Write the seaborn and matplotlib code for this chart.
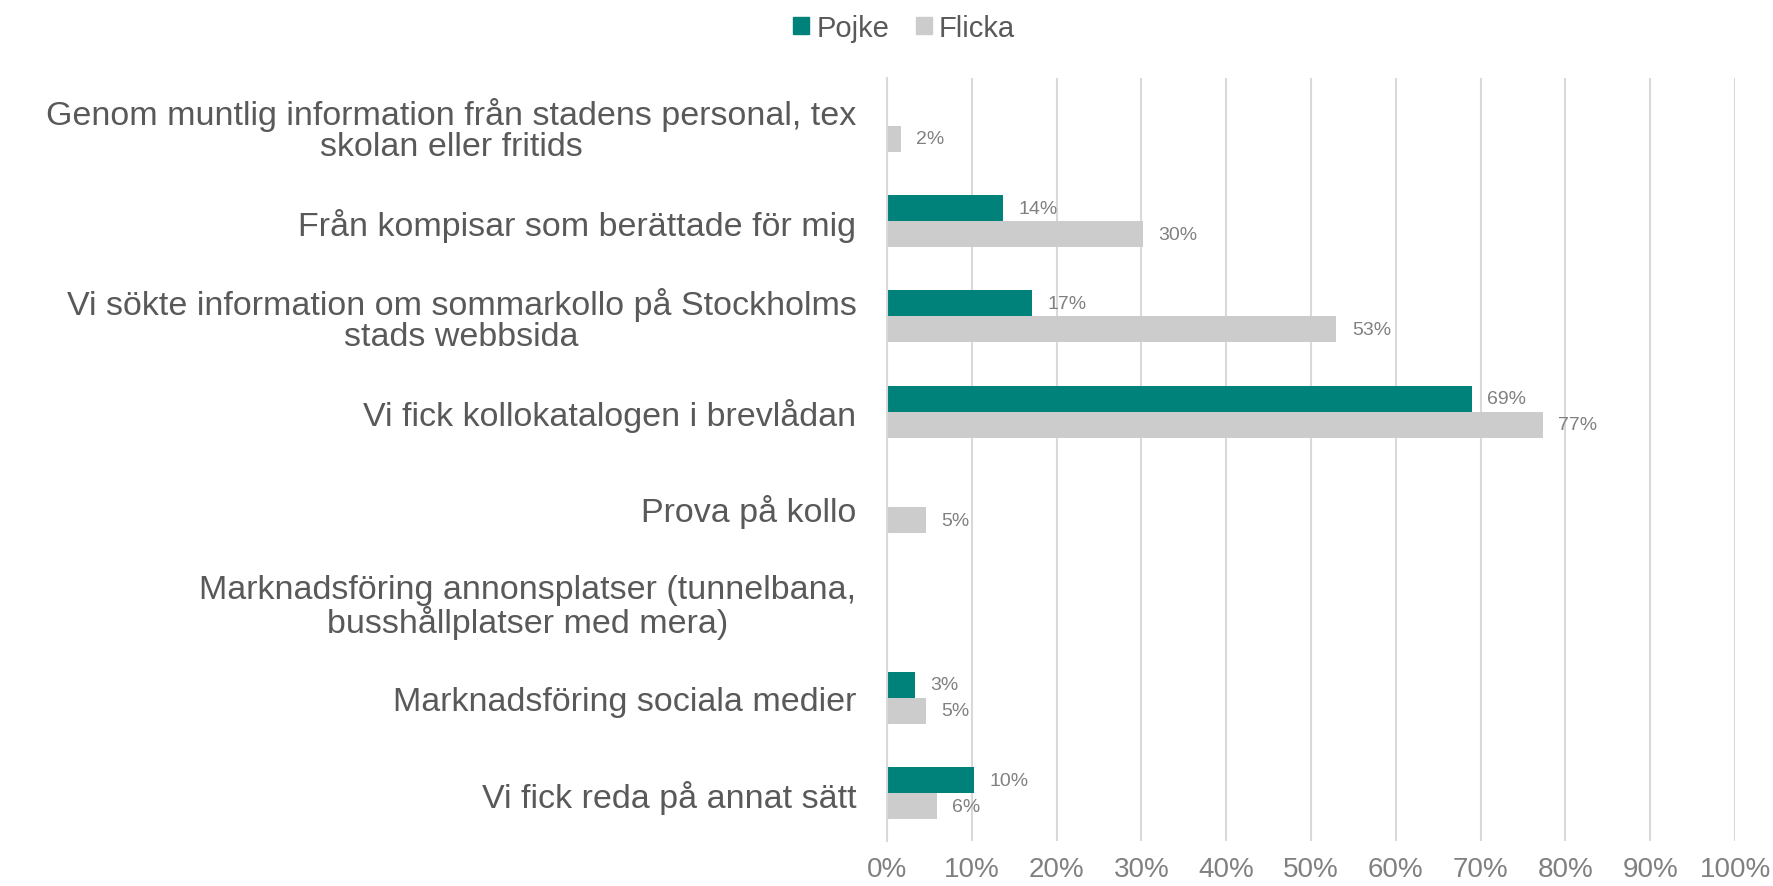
import matplotlib
matplotlib.use('Agg')
import matplotlib.pyplot as plt
import pandas as pd
import seaborn as sns
from matplotlib.ticker import PercentFormatter

categories = [
    'Genom muntlig information från stadens personal, tex\nskolan eller fritids',
    'Från kompisar som berättade för mig',
    'Vi sökte information om sommarkollo på Stockholms\nstads webbsida',
    'Vi fick kollokatalogen i brevlådan',
    'Prova på kollo',
    'Marknadsföring annonsplatser (tunnelbana,\nbusshållplatser med mera)',
    'Marknadsföring sociala medier',
    'Vi fick reda på annat sätt',
]
pojke = [0.0, 13.7, 17.1, 69.0, 0.0, 0.0, 3.3, 10.3]
flicka = [1.6, 30.2, 53.0, 77.3, 4.6, 0.0, 4.6, 5.9]
series = ['Pojke', 'Flicka']
colors = ['#00827A', '#CCCCCC']

sns.set_style('white')
plt.rcParams['font.family'] = ['Liberation Sans', 'DejaVu Sans']

df = pd.DataFrame({
    'kategori': categories * 2,
    'kön': ['Pojke'] * len(categories) + ['Flicka'] * len(categories),
    'andel': pojke + flicka,
})

fig = plt.figure(figsize=(17.73, 8.87), dpi=100)
ax = fig.add_axes([0.5003, 0.0507, 0.4783, 0.8603])

sns.barplot(data=df, y='kategori', x='andel', hue='kön', hue_order=series,
            palette=colors, order=categories, width=0.545, linewidth=0,
            saturation=1, orient='h', ax=ax, legend=False)

ax.set_xlim(0, 100)
ax.set_ylim(len(categories) - 0.5, -0.5)
ax.set_xticks(range(0, 101, 10))
ax.xaxis.set_major_formatter(PercentFormatter(decimals=0))
ax.grid(axis='x', color='#D9D9D9', linewidth=1.5)
ax.set_axisbelow(True)
for s in ['top', 'right', 'bottom']:
    ax.spines[s].set_visible(False)
ax.spines['left'].set_color('#D9D9D9')
ax.spines['left'].set_linewidth(1.5)
ax.set_xlabel('')
ax.set_ylabel('')

ax.tick_params(axis='x', length=0, pad=11, labelsize=20, labelcolor='#808080')
ax.tick_params(axis='y', which='major', length=0, pad=22, labelsize=24.5, labelcolor='#595959')
ax.set_yticks([i - 0.5 for i in range(len(categories) + 1)], minor=True)
ax.tick_params(axis='y', which='minor', length=8, width=1.5, color='#D9D9D9')
for lbl in ax.get_yticklabels():
    lbl.set_multialignment('center')
    lbl.set_linespacing(1.0)

for cont in ax.containers:
    for bar in cont:
        w = bar.get_width()
        if w > 0:
            ax.annotate(f'{w:.0f}%', (w, bar.get_y() + bar.get_height() / 2),
                        xytext=(11, 0), textcoords='offset points',
                        va='center', ha='left', fontsize=14, color='#808080')

handles = [plt.Rectangle((0, 0), 1, 1, color=c) for c in colors]
fig.legend(handles, series, loc='upper center', bbox_to_anchor=(0.51, 1.013),
           ncol=2, frameon=False, fontsize=21, labelcolor='#595959',
           handlelength=0.55, handleheight=0.55, handletextpad=0.25, columnspacing=0.9)

fig.savefig('out.png', dpi=100)
